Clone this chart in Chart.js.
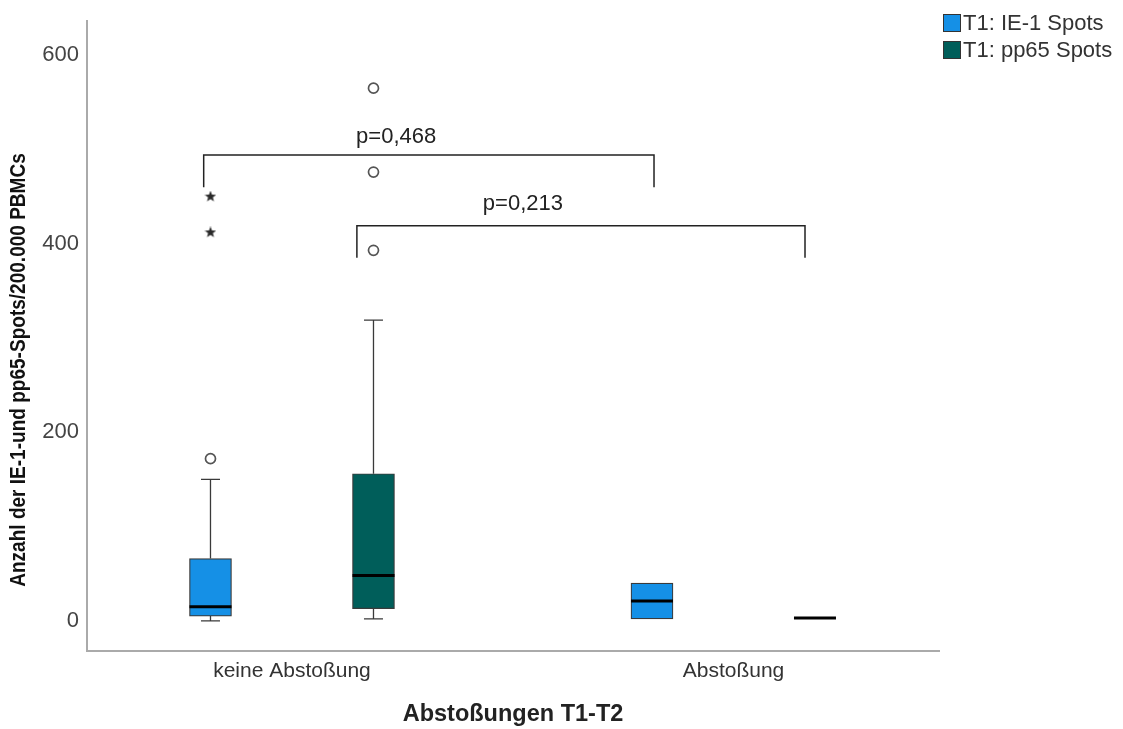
<!DOCTYPE html>
<html>
<head>
<meta charset="utf-8">
<script src="https://cdn.jsdelivr.net/npm/chart.js@4"></script>
<style>
  body { margin: 0; background: #fff; }
</style>
</head>
<body>
<canvas id="boxChart" width="1123" height="729"></canvas>
<script>
const groups = ['keine Abstoßung', 'Abstoßung'];
const seriesNames = ['T1: IE-1 Spots', 'T1: pp65 Spots'];

// IE-1 spots (box statistics per group)
const ie1Min = [0, 2];
const ie1Q1 = [5, 2];
const ie1Median = [15, 21];
const ie1Q3 = [66, 40];
const ie1Max = [150, 40];
const ie1Outliers = [[172], []];
const ie1Extremes = [[450, 412], []];

// pp65 spots
const pp65Min = [2, 3];
const pp65Q1 = [13, 3];
const pp65Median = [48, 3];
const pp65Q3 = [156, 3];
const pp65Max = [319, 3];
const pp65Outliers = [[565, 476, 393], []];
const pp65Extremes = [[], []];

const yTicks = [0, 200, 400, 600];

// significance brackets: x in group units, y in spots
const bracketFrom = [-0.2, 0.147];
const bracketTo = [0.82, 1.162];
const bracketTop = [494, 419];
const bracketFoot = [460, 385];
const pLabels = ['p=0,468', 'p=0,213'];
const pLabelX = [0.236, 0.523];
const pLabelY = [513, 442];

const colors = ['#1590e6', '#005e5a'];
const dodge = [-0.1846, 0.1846];
const boxWidth = 42;
const capHalf = 9.5;

const series = [
  { min: ie1Min, q1: ie1Q1, med: ie1Median, q3: ie1Q3, max: ie1Max, out: ie1Outliers, ext: ie1Extremes },
  { min: pp65Min, q1: pp65Q1, med: pp65Median, q3: pp65Q3, max: pp65Max, out: pp65Outliers, ext: pp65Extremes }
];

function makeStar(size, color) {
  const c = document.createElement('canvas');
  c.width = c.height = size;
  const g = c.getContext('2d');
  g.fillStyle = color;
  g.beginPath();
  for (let k = 0; k < 10; k++) {
    const r = k % 2 ? size * 0.21 : size * 0.5;
    const a = -Math.PI / 2 + k * Math.PI / 5;
    g.lineTo(size / 2 + r * Math.cos(a), size / 2 + r * Math.sin(a));
  }
  g.closePath();
  g.fill();
  return c;
}
const star = makeStar(12, '#2a2a2a');

const datasets = [];
series.forEach((s, si) => {
  datasets.push({
    type: 'bar',
    label: seriesNames[si],
    data: groups.map((g, i) => ({ x: i + dodge[si], y: [s.q1[i], s.q3[i]] })),
    backgroundColor: colors[si],
    borderColor: '#3a3a3a',
    borderWidth: 1.2,
    borderSkipped: false,
    barThickness: boxWidth,
    grouped: false
  });
});
series.forEach((s, si) => {
  datasets.push({
    type: 'scatter',
    label: 'out' + si,
    data: groups.flatMap((g, i) => s.out[i].map(v => ({ x: i + dodge[si], y: v }))),
    pointStyle: 'circle',
    pointRadius: 5,
    pointBorderWidth: 1.7,
    pointBorderColor: '#555',
    pointBackgroundColor: '#fff'
  });
  datasets.push({
    type: 'scatter',
    label: 'ext' + si,
    data: groups.flatMap((g, i) => s.ext[i].map(v => ({ x: i + dodge[si], y: v }))),
    pointStyle: star
  });
});

const boxParts = {
  id: 'boxParts',
  beforeDatasetsDraw(chart) {
    const { ctx, scales: { x, y } } = chart;
    ctx.save();
    ctx.strokeStyle = '#3a3a3a';
    ctx.lineWidth = 1.3;
    series.forEach((s, si) => {
      groups.forEach((g, i) => {
        const px = x.getPixelForValue(i + dodge[si]);
        [[s.q3[i], s.max[i]], [s.q1[i], s.min[i]]].forEach(([from, to]) => {
          if (from === to) return;
          const yTo = y.getPixelForValue(to);
          ctx.beginPath();
          ctx.moveTo(px, y.getPixelForValue(from));
          ctx.lineTo(px, yTo);
          ctx.moveTo(px - capHalf, yTo);
          ctx.lineTo(px + capHalf, yTo);
          ctx.stroke();
        });
      });
    });
    ctx.restore();
  },
  afterDatasetsDraw(chart) {
    const { ctx, scales: { x, y } } = chart;
    ctx.save();
    // medians
    ctx.strokeStyle = '#000';
    ctx.lineWidth = 3;
    series.forEach((s, si) => {
      groups.forEach((g, i) => {
        const px = x.getPixelForValue(i + dodge[si]);
        const py = y.getPixelForValue(s.med[i]);
        ctx.beginPath();
        ctx.moveTo(px - boxWidth / 2, py);
        ctx.lineTo(px + boxWidth / 2, py);
        ctx.stroke();
      });
    });
    // brackets
    ctx.strokeStyle = '#222';
    ctx.lineWidth = 1.5;
    pLabels.forEach((t, k) => {
      const x1 = x.getPixelForValue(bracketFrom[k]);
      const x2 = x.getPixelForValue(bracketTo[k]);
      const yt = y.getPixelForValue(bracketTop[k]);
      const yf = y.getPixelForValue(bracketFoot[k]);
      ctx.beginPath();
      ctx.moveTo(x1, yf);
      ctx.lineTo(x1, yt);
      ctx.lineTo(x2, yt);
      ctx.lineTo(x2, yf);
      ctx.stroke();
    });
    ctx.fillStyle = '#222';
    ctx.font = '22px "Liberation Sans", Arial, sans-serif';
    ctx.textAlign = 'center';
    ctx.textBaseline = 'middle';
    pLabels.forEach((t, k) => {
      ctx.fillText(t, x.getPixelForValue(pLabelX[k]), y.getPixelForValue(pLabelY[k]));
    });
    ctx.restore();
  },
  afterDraw(chart) {
    const { ctx } = chart;
    ctx.save();
    // legend
    ctx.font = '22px "Liberation Sans", Arial, sans-serif';
    ctx.textAlign = 'left';
    ctx.textBaseline = 'middle';
    seriesNames.forEach((n, k) => {
      const top = 14 + k * 27;
      ctx.fillStyle = colors[k];
      ctx.fillRect(943, top, 18, 18);
      ctx.strokeStyle = '#333';
      ctx.lineWidth = 1;
      ctx.strokeRect(943.5, top + 0.5, 17, 17);
      ctx.fillStyle = '#333';
      ctx.fillText(n, 963, top + 10);
    });
    // y axis title (condensed)
    ctx.translate(19, 370);
    ctx.rotate(-Math.PI / 2);
    ctx.scale(0.865, 1);
    ctx.textAlign = 'center';
    ctx.fillStyle = '#111';
    ctx.font = 'bold 22px "Liberation Sans", Arial, sans-serif';
    ctx.fillText('Anzahl der IE-1-und pp65-Spots/200.000 PBMCs', 0, 0);
    ctx.restore();
  }
};

Chart.defaults.font.family = '"Liberation Sans", Arial, sans-serif';

new Chart(document.getElementById('boxChart'), {
  type: 'bar',
  data: { datasets },
  plugins: [boxParts],
  options: {
    responsive: false,
    animation: false,
    layout: { padding: { top: 18, right: 184, left: 0, bottom: 0 } },
    plugins: {
      legend: { display: false },
      tooltip: { enabled: false }
    },
    scales: {
      x: {
        type: 'linear',
        offset: false,
        min: -0.4643,
        max: 1.4655,
        grid: { display: false, drawTicks: false },
        border: { color: '#aaa', width: 2 },
        afterBuildTicks: scale => { scale.ticks = groups.map((g, i) => ({ value: i })); },
        afterFit: scale => { scale.height = 78; },
        ticks: {
          autoSkip: false,
          maxRotation: 0,
          padding: 8,
          color: '#333',
          font: { size: 21 },
          callback: v => groups[v]
        },
        title: {
          display: true,
          text: 'Abstoßungen T1-T2',
          color: '#222',
          font: { size: 23.5, weight: 'bold' },
          padding: { top: 0, bottom: 0 }
        }
      },
      y: {
        min: -32,
        max: 636,
        grid: { display: false, drawTicks: false },
        border: { color: '#aaa', width: 2 },
        afterBuildTicks: scale => { scale.ticks = yTicks.map(v => ({ value: v })); },
        afterFit: scale => { scale.width = 87; },
        ticks: { padding: 8, color: '#444', font: { size: 22 } }
      }
    }
  }
});
</script>
</body>
</html>
